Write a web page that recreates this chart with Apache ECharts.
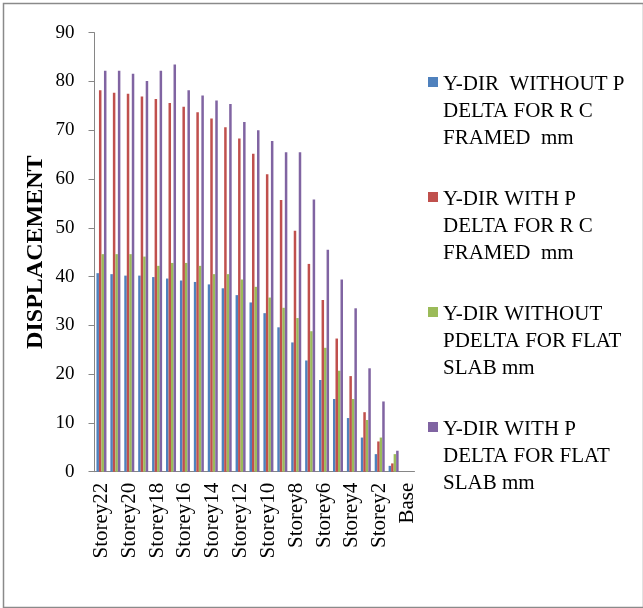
<!DOCTYPE html>
<html>
<head>
<meta charset="utf-8">
<script src="https://cdn.jsdelivr.net/npm/echarts@6/dist/echarts.min.js"></script>
<style>
  html, body { margin: 0; padding: 0; background: #fff; }
  #chart { width: 643px; height: 608px; }
</style>
</head>
<body>
<div id="chart"></div>
<script>
const categories = ['Storey22','Storey21','Storey20','Storey19','Storey18','Storey17','Storey16','Storey15','Storey14','Storey13','Storey12','Storey11','Storey10','Storey9','Storey8','Storey7','Storey6','Storey5','Storey4','Storey3','Storey2','Storey1','Base'];

const seriesNames = [
  'Y-DIR  WITHOUT P\nDELTA FOR R C\nFRAMED  mm',
  'Y-DIR WITH P\nDELTA FOR R C\nFRAMED  mm',
  'Y-DIR WITHOUT\nPDELTA FOR FLAT\nSLAB mm',
  'Y-DIR WITH P\nDELTA FOR FLAT\nSLAB mm'
];

const rcWithoutPDelta = [40.7, 40.5, 40.2, 40.2, 39.9, 39.6, 39.2, 38.9, 38.4, 37.6, 36.2, 34.7, 32.5, 29.6, 26.5, 22.8, 18.8, 14.9, 11.0, 7.0, 3.6, 1.2, 0];
const rcWithPDelta    = [78.2, 77.7, 77.5, 76.9, 76.4, 75.6, 74.8, 73.7, 72.4, 70.6, 68.3, 65.2, 61.0, 55.7, 49.4, 42.6, 35.2, 27.3, 19.6, 12.2, 6.2, 1.7, 0];
const flatWithoutPDelta = [44.6, 44.6, 44.6, 44.1, 42.2, 42.8, 42.8, 42.2, 40.5, 40.5, 39.4, 37.9, 35.7, 33.6, 31.5, 28.8, 25.4, 20.7, 14.9, 10.6, 7.0, 3.6, 0];
const flatWithPDelta  = [82.2, 82.2, 81.6, 80.1, 82.2, 83.5, 78.2, 77.1, 76.1, 75.4, 71.7, 70.0, 67.8, 65.5, 65.5, 55.8, 45.5, 39.4, 33.5, 21.2, 14.4, 4.3, 0];

const yTicks = { min: 0, max: 90, interval: 10 };
const colors = ['#4F81BD', '#C0504D', '#9BBB59', '#8064A2'];
const values = [rcWithoutPDelta, rcWithPDelta, flatWithoutPDelta, flatWithPDelta];

const serif = '"Liberation Serif", "Times New Roman", serif';
const chart = echarts.init(document.getElementById('chart'), null, { renderer: 'canvas' });

chart.setOption({
  animation: false,
  color: colors,
  graphic: [{
    type: 'rect',
    left: 1, top: 1,
    shape: { width: 640, height: 604 },
    style: { fill: 'none', stroke: '#8a8a8a', lineWidth: 1.5 },
    silent: true
  }],
  grid: { left: 94.5, right: 228.5, top: 32.7, bottom: 136.3, containLabel: false },
  legend: {
    orient: 'vertical',
    left: 428,
    top: 71,
    padding: 0,
    itemWidth: 10,
    itemHeight: 81,
    itemGap: 34,
    selectedMode: false,
    icon: 'path://M0,0L0.01,0L0.01,0.01Z M0,6L10,6L10,16L0,16Z M0,80.99L0.01,80.99L0.01,81Z',
    textStyle: { fontFamily: serif, fontSize: 21, lineHeight: 27, color: '#000' },
    data: seriesNames
  },
  xAxis: {
    type: 'category',
    data: categories,
    axisLine: { show: true, lineStyle: { color: '#868686', width: 1 } },
    axisTick: { show: false },
    axisLabel: {
      interval: 1,
      rotate: 90,
      margin: 11,
      fontFamily: serif,
      fontSize: 21,
      color: '#000'
    },
    splitLine: { show: false }
  },
  yAxis: {
    type: 'value',
    min: yTicks.min,
    max: yTicks.max,
    interval: yTicks.interval,
    name: 'DISPLACEMENT',
    nameLocation: 'middle',
    nameGap: 47,
    nameRotate: 90,
    nameTextStyle: { fontFamily: serif, fontSize: 24, fontWeight: 'bold', color: '#000' },
    axisLine: { show: true, lineStyle: { color: '#868686', width: 1 } },
    axisTick: { show: true, inside: false, length: 6, lineStyle: { color: '#868686' } },
    axisLabel: { fontFamily: serif, fontSize: 19, color: '#000', margin: 20 },
    splitLine: { show: false }
  },
  series: seriesNames.map((name, i) => ({
    name: name,
    type: 'bar',
    data: values[i],
    barGap: '0%',
    barCategoryGap: '28%',
    itemStyle: { color: colors[i] }
  }))
});
</script>
</body>
</html>
